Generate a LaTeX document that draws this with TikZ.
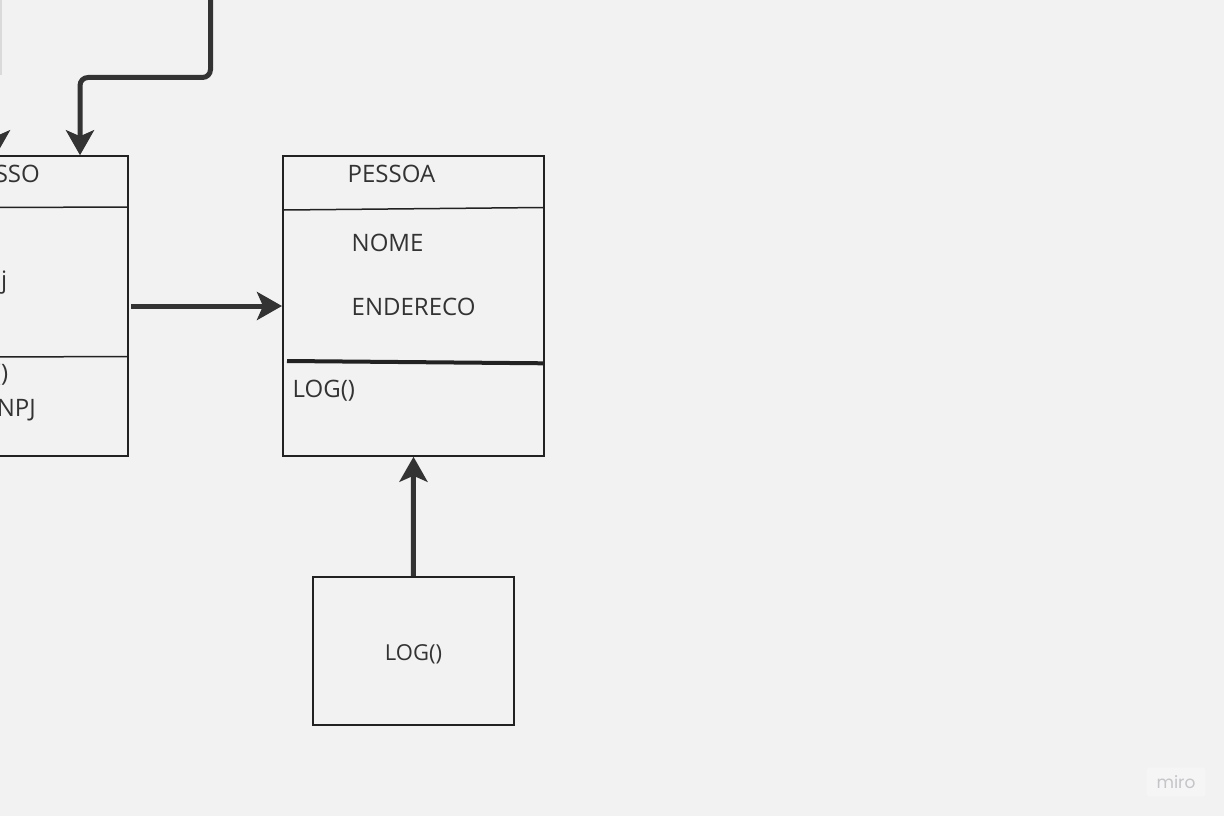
\documentclass[tikz,border=0pt]{standalone}
\usepackage{fontspec}
\setmainfont{Open Sans}
\newfontfamily\logofont{Poppins}
\usetikzlibrary{arrows.meta}
\definecolor{bg}{HTML}{F2F2F2}
\definecolor{ink}{HTML}{222222}
\definecolor{arr}{HTML}{333333}
\definecolor{txt}{HTML}{333333}
\definecolor{faint}{HTML}{DADADA}
\definecolor{logotxt}{HTML}{C4C4CA}
\definecolor{logobg}{HTML}{F5F5F5}
\begin{document}
\begin{tikzpicture}[x=1pt,y=-1pt,
  umlbox/.style={draw=ink, line width=2pt, inner sep=0pt},
  conn/.style={draw=arr, line width=5pt, arrows={-Stealth[length=25pt,width=28pt,inset=6pt]}},
  lbl/.style={text=txt, font=\fontsize{24}{28}\selectfont, inner sep=0pt, anchor=base west},
  lblr/.style={lbl, anchor=base east},
  div/.style={draw=ink, line width=1.5pt},
  thickdiv/.style={draw=ink, line width=4pt}]
\useasboundingbox (0,0) rectangle (1224,816);
\fill[bg] (0,0) rectangle (1224,816);
\clip (0,0) rectangle (1224,816);

% faint edge at top left
\draw[faint, line width=1.5pt] (0.75,0) -- (0.75,75);

% left (cut off) class box
\node[umlbox, minimum width=260pt, minimum height=299.5pt] (leftbox) at (-2,306) {};
\draw[div] (-132,208) -- (128,207);
\draw[div] (-132,357.5) -- (128,356.5);
\node[lblr] (tsso) at (40,182) {SSO};
\node[lblr] (tj) at (7.5,288.5) {j};
\node[lblr] (tpar) at (8.5,381) {()};
\node[lblr] (tnpj) at (36,416) {NPJ};

% PESSOA class box
\node[umlbox, minimum width=261pt, minimum height=299.5pt] (pessoa) at (413.5,306) {};
\draw[div] (284,210) -- (543.5,207.5);
\draw[thickdiv] (287,361) -- (543.5,363.3);
\node[lbl] (tpessoa) at (347.5,182.5) {PESSOA};
\node[lbl] (tnome) at (351.5,251.7) {NOME};
\node[lbl] (tend) at (351.5,315.5) {ENDERECO};
\node[lbl] (tlog) at (292.5,397.5) {LOG()};

% LOG() box
\node[umlbox, minimum width=201.5pt, minimum height=148pt] (logbox) at (413.3,650.8) {};
\node[text=txt, font=\fontsize{22}{26}\selectfont, inner sep=0pt, anchor=base] (tlog2) at (413.5,660.5) {LOG()};

% connectors
\coordinate (topstart) at (210.5,-5);
\coordinate (bendA) at (210.5,77.5);
\coordinate (bendB) at (80,77.5);
\draw[conn, rounded corners=8pt] (topstart) -- (bendA) -- (bendB) -- (leftbox.north -| bendB);
\coordinate (offarrow) at (-4,90);
\draw[conn] (offarrow) -- (leftbox.north -| offarrow);
\draw[conn] (leftbox.east) ++(2,0) coordinate (lbe) (lbe) -- (pessoa.west);
\draw[conn] (logbox.north) -- (pessoa.south);

% miro logo
\node[fill=logobg, rounded corners=3pt, inner xsep=10pt, inner ysep=8pt,
      text=logotxt, font=\logofont\fontsize{17}{20}\selectfont] (miro) at (1176,782) {miro};
\end{tikzpicture}
\end{document}
